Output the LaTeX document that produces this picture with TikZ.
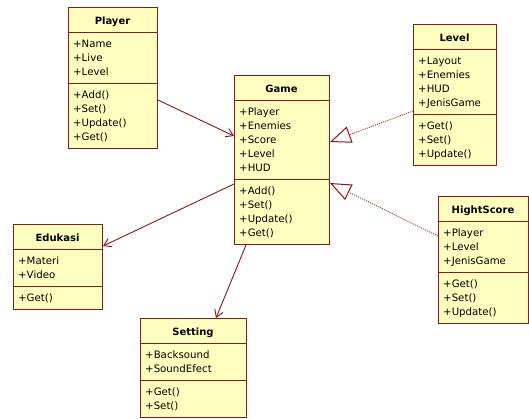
\documentclass[tikz,border=0pt]{standalone}
\usepackage{fontspec}
\setmainfont{DejaVu Sans}
\usetikzlibrary{arrows.meta}
\definecolor{umlborder}{RGB}{139,26,26}
\definecolor{umlfill}{RGB}{255,255,192}
\definecolor{umlline}{RGB}{140,20,20}
\definecolor{umldot}{RGB}{175,50,50}
\tikzset{
 classbox/.style={draw=umlborder, fill=umlfill, line width=1pt, inner sep=0pt, anchor=north west},
 divider/.style={draw=umlborder, line width=1pt},
 classtitle/.style={font=\fontsize{10}{12}\selectfont\bfseries, inner sep=0pt, anchor=base},
 member/.style={font=\fontsize{10.2}{12}\selectfont, inner sep=0pt, anchor=base west},
 assoc/.style={draw=umlline, line width=0.9pt, -{Straight Barb[length=7pt,width=9pt]}},
 realize/.style={draw=umldot, line width=1pt, dash pattern=on 1pt off 1.2pt, -{Triangle[length=21pt,width=17pt,fill=white,color=umlline,line width=1pt]}},
}
\newcommand\umlclass[9]{%
  \pgfmathsetmacro\ya{#3+25}%
  \pgfmathsetmacro\yb{\ya+14*#8+9}%
  \pgfmathsetmacro\yc{\yb+14*#9+9}%
  \pgfmathsetmacro\hh{\yc-#3}%
  \node[classbox, minimum width=#4pt, minimum height=\hh pt] (#1) at (#2,#3) {};
  \draw[divider] (#2,\ya) -- ++(#4,0);
  \draw[divider] (#2,\yb) -- ++(#4,0);
  \node[classtitle] (#1-title) at ({#2+#4/2},{#3+17}) {#5};
  \foreach \t [count=\i] in {#6} \node[member] (#1-a\i) at ({#2+5},{\ya+14*\i+1}) {\t};
  \foreach \t [count=\i] in {#7} \node[member] (#1-o\i) at ({#2+5},{\yb+14*\i+1}) {\t};
}
\begin{document}
\begin{tikzpicture}[x=1pt,y=-1pt]
\useasboundingbox (0,0) rectangle (529,418);
\umlclass{player}{68}{7}{89}{Player}{+Name,+Live,+Level}{+Add(),+Set(),+Update(),+Get()}{3}{4}
\umlclass{game}{234}{75}{95}{Game}{+Player,+Enemies,+Score,+Level,+HUD}{+Add(),+Set(),+Update(),+Get()}{5}{4}
\umlclass{level}{413}{24}{83}{Level}{+Layout,+Enemies,+HUD,+JenisGame}{+Get(),+Set(),+Update()}{4}{3}
\umlclass{hs}{438}{196}{90}{HightScore}{+Player,+Level,+JenisGame}{+Get(),+Set(),+Update()}{3}{3}
\umlclass{edukasi}{13}{224}{89}{Edukasi}{+Materi,+Video}{+Get()}{2}{1}
\umlclass{setting}{140}{318}{106}{Setting}{+Backsound,+SoundEfect}{+Get(),+Set()}{2}{2}
\draw[assoc] (player.east |- 0,100) -- (game.west |- 0,136);
\draw[realize] (level.west |- 0,111) -- (game.east |- 0,142);
\draw[realize] (hs.west |- 0,236) -- (game.east |- 0,183);
\draw[assoc] (game.west |- 0,184) -- (edukasi.east |- 0,246);
\draw[assoc] (game.south -| 246,0) -- (setting.north -| 216,0);
\end{tikzpicture}
\end{document}
